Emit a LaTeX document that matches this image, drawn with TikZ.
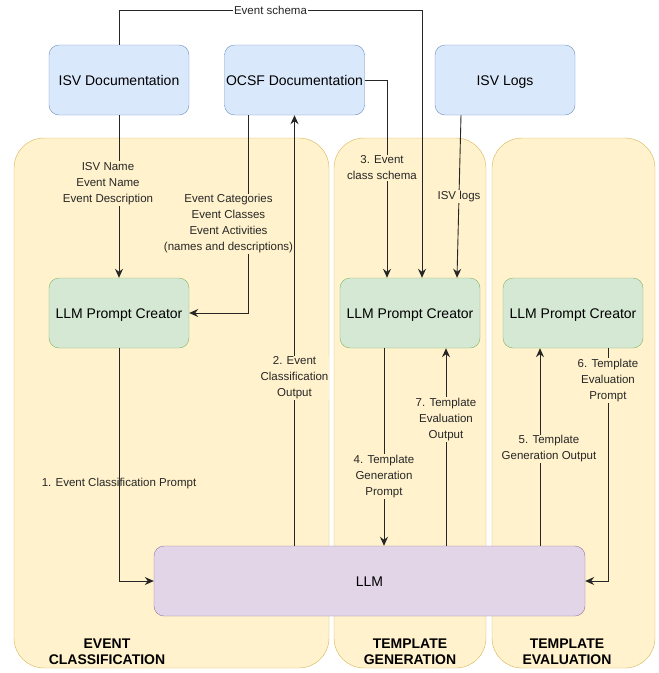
\documentclass[tikz,border=0pt]{standalone}
\usepackage{fontspec}
\setmainfont{Liberation Sans}
\usetikzlibrary{arrows.meta}
\definecolor{docfill}{HTML}{DAE8FC}
\definecolor{docline}{HTML}{6C8EBF}
\definecolor{creafill}{HTML}{D5E8D4}
\definecolor{crealine}{HTML}{82B366}
\definecolor{panelfill}{HTML}{FFF2CC}
\definecolor{panelline}{HTML}{D6B656}
\definecolor{llmfill}{HTML}{E1D5E7}
\definecolor{llmline}{HTML}{9673A6}
\begin{document}
\begin{tikzpicture}[x=1pt,y=-1pt,
    box/.style={rounded corners=10pt,minimum height=70pt,minimum width=140pt,inner sep=0pt,
      text height=12pt,text depth=2pt,font=\fontsize{14}{17}\selectfont},
    doc/.style={box,fill=docfill,draw=docline},
    creator/.style={box,fill=creafill,draw=crealine},
    panel/.style={rounded corners=30pt,fill=panelfill,draw=panelline,minimum height=530pt,inner sep=0pt},
    title/.style={align=center,font=\fontsize{14}{16}\selectfont\bfseries},
    lbl/.style={align=center,inner sep=1pt,font=\fontsize{11.5}{16}\selectfont},
    flow/.style={-{Stealth[length=9pt,width=8pt,inset=3pt]},line width=0.9pt,black!85}]
  \useasboundingbox (0,0) rectangle (659,673);
  % phase panels
  \node[panel,minimum width=315pt] (evclass) at (171.5,403) {};
  \node[panel,minimum width=152pt] (tmplgen) at (410,403) {};
  \node[panel,minimum width=163pt] (tmpleval) at (573.5,403) {};
  \node[title] (evclasstitle) at (107,652) {EVENT\\CLASSIFICATION};
  \node[title] (tmplgentitle) at (410,652) {TEMPLATE\\GENERATION};
  \node[title] (tmplevaltitle) at (567,652) {TEMPLATE\\EVALUATION};
  % sources
  \node[doc] (isvdoc) at (119,80) {ISV Documentation};
  \node[doc] (ocsfdoc) at (294.5,80) {OCSF Documentation};
  \node[doc] (isvlogs) at (505,80) {ISV Logs};
  % prompt creators and model
  \node[creator] (creator1) at (119,313) {LLM Prompt Creator};
  \node[creator] (creator2) at (410,313) {LLM Prompt Creator};
  \node[creator] (creator3) at (573,313) {LLM Prompt Creator};
  \node[box,fill=llmfill,draw=llmline,minimum width=431pt] (llm) at (369.5,581) {LLM};
  % connectors
  \draw[flow] (isvdoc.north) -- ++(0,-34) -| node[pos=.25,lbl,fill=white] {Event schema} ([xshift=12pt]creator2.north);
  \draw[flow] (isvdoc.south) -- node[pos=.42,lbl,fill=panelfill,xshift=-11pt] {ISV Name\\Event Name\\Event Description} (creator1.north);
  \draw[flow] ([xshift=-46pt]ocsfdoc.south) |- node[pos=.275,lbl,fill=panelfill,xshift=-20pt] {Event Categories\\Event Classes\\Event Activities\\(names and descriptions)} (creator1.east);
  \draw[flow] (llm.north -| ocsfdoc.south) -- node[pos=.39,lbl,fill=panelfill] {2. Event\\Classification\\Output} (ocsfdoc.south);
  \draw[flow] (ocsfdoc.east) -| node[pos=.722,lbl,fill=panelfill,xshift=-5pt] {3. Event\\class schema} ([xshift=-23pt]creator2.north);
  \draw[flow] ([xshift=-44pt]isvlogs.south) -- node[pos=.5,lbl,fill=panelfill] {ISV logs} ([xshift=47pt]creator2.north);
  \draw[flow] (creator1.south) |- node[pos=.29,lbl] {1. Event Classification Prompt} (llm.west);
  \draw[flow] ([xshift=-26pt]creator2.south) -- node[pos=.65,lbl,fill=panelfill] {4. Template\\Generation\\Prompt} ([xshift=-26pt]creator2.south |- llm.north);
  \draw[flow] ([xshift=36pt]creator2.south |- llm.north) -- node[pos=.64,lbl,fill=panelfill] {7. Template\\Evaluation\\Output} ([xshift=36pt]creator2.south);
  \draw[flow] ([xshift=-33pt]creator3.south |- llm.north) -- node[pos=.49,lbl,fill=panelfill,xshift=9pt] {5. Template\\Generation Output} ([xshift=-33pt]creator3.south);
  \draw[flow] ([xshift=35pt]creator3.south) |- node[pos=.069,lbl,fill=panelfill] {6. Template\\Evaluation\\Prompt} (llm.east);
\end{tikzpicture}
\end{document}
